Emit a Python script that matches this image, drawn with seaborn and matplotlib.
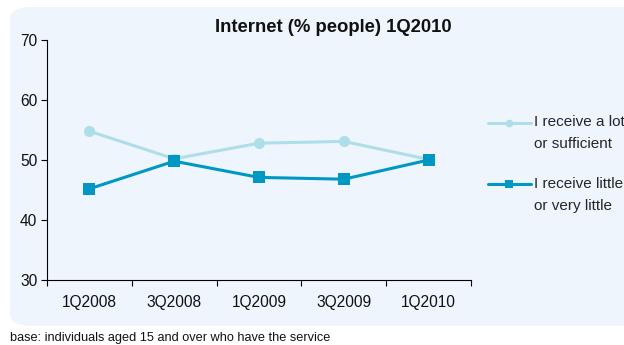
import matplotlib
matplotlib.use("Agg")
import matplotlib.pyplot as plt
from matplotlib.patches import FancyBboxPatch
import pandas as pd
import seaborn as sns

quarters = ["1Q2008", "3Q2008", "1Q2009", "3Q2009", "1Q2010"]
series_names = ["I receive a lot\nor sufficient", "I receive little\nor very little"]
lot_or_sufficient = [54.8, 50.2, 52.8, 53.1, 50.1]
little_or_very_little = [45.2, 49.8, 47.1, 46.8, 50.0]
colors = ["#AEDFE9", "#0098C2"]

df = pd.DataFrame({
    "pos": list(range(len(quarters))) * 2,
    "value": lot_or_sufficient + little_or_very_little,
    "series": [series_names[0]] * len(quarters) + [series_names[1]] * len(quarters),
})

sns.set_theme(style="white")
plt.rcParams["font.family"] = ["Liberation Sans", "DejaVu Sans"]

fig = plt.figure(figsize=(6.24, 3.45), dpi=100)
fig.patch.set_facecolor("white")

# rounded light-blue panel behind the chart
panel = FancyBboxPatch((10 / 624, 19 / 345), 1.2, (326 - 7) / 345,
                       boxstyle="round,pad=0,rounding_size=0.035",
                       transform=fig.transFigure, facecolor="#EEF5FD",
                       edgecolor="none", zorder=-10)
fig.patches.append(panel)

ax = fig.add_axes([47 / 624, 1 - 280 / 345, (471 - 47) / 624, (280 - 40) / 345])
ax.set_facecolor("none")
ax.set_zorder(1)

sns.lineplot(data=df, x="pos", y="value", hue="series", style="series",
             palette=colors, markers=["o", "s"], dashes=False,
             linewidth=2.2, markersize=8, markeredgewidth=0, ax=ax)

ax.set_xlim(-0.5, len(quarters) - 0.5)
ax.set_ylim(30, 70)
ax.set_yticks([30, 40, 50, 60, 70])
ax.set_xticks([i - 0.5 for i in range(len(quarters) + 1)])
ax.set_xticklabels([])
ax.set_xticks(range(len(quarters)), minor=True)
ax.set_xticklabels(quarters, minor=True)
ax.tick_params(axis="x", which="minor", length=0, pad=11, labelsize=11.2, colors="#111111")
ax.tick_params(axis="x", which="major", length=4, width=0.8, color="black", direction="out")
ax.tick_params(axis="y", length=4, width=0.8, color="black", direction="out",
               labelsize=11.2, labelcolor="#111111", pad=3)
ax.tick_params(bottom=True, left=True)
for side in ["top", "right"]:
    ax.spines[side].set_visible(False)
for side in ["left", "bottom"]:
    ax.spines[side].set_color("black")
    ax.spines[side].set_linewidth(0.8)
ax.set_xlabel("")
ax.set_ylabel("")

# legend handle sits beside the first line of each two-line label
handles, labels = ax.get_legend_handles_labels()
labels = ["\n" + lab for lab in labels]
leg = ax.legend(handles, labels, loc="upper left", bbox_to_anchor=(488 / 624, 1 - 94 / 345),
                bbox_transform=fig.transFigure, frameon=False, fontsize=11,
                handlelength=2.8, handletextpad=0.2, labelspacing=0.3, borderpad=0,
                borderaxespad=0)
for t in leg.get_texts():
    t.set_linespacing(1.68)
for h in leg.legend_handles:
    h.set_markersize(5.5)

fig.text(333 / 624, 1 - 27 / 345, "Internet (% people) 1Q2010", ha="center",
         va="center", fontsize=13.3, fontweight="bold", color="#111111")
fig.text(10 / 624, 1 - 338 / 345, "base: individuals aged 15 and over who have the service",
         ha="left", va="center", fontsize=9.2, color="#111111")

fig.savefig("out.png", dpi=100, facecolor=fig.get_facecolor())
